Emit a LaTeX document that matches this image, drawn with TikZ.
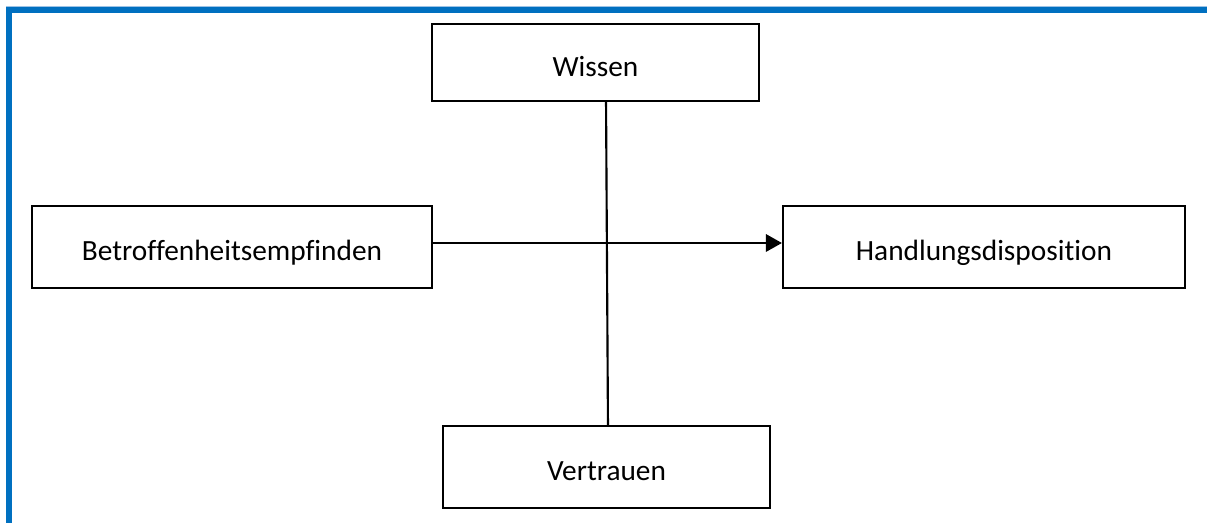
\documentclass[tikz,border=0pt]{standalone}
\usepackage{fontspec}
\setmainfont{Carlito}[Ligatures=NoCommon]
\usetikzlibrary{arrows.meta,calc}
\definecolor{frameblue}{HTML}{0070C0}
\definecolor{lightblue}{HTML}{9DC3E6}
\tikzset{
  box/.style={draw=black, line width=1.6pt, fill=white, inner sep=0pt,
    text height=24pt, text depth=3.6pt, font=\fontsize{22pt}{26pt}\selectfont},
  conn/.style={draw=black, line width=1.6pt},
}
\begin{document}
\begin{tikzpicture}[x=0.75pt,y=-0.75pt]
\useasboundingbox (0,0) rectangle (1207,523);
\fill[white] (0,0) rectangle (1207,523);
% frame
\fill[lightblue] (6,6) rectangle (1207,8);
\fill[frameblue] (6,7.5) rectangle (1207,13);
\fill[frameblue] (6,7.5) rectangle (12,523);
% nodes
\node[box, minimum width=245.25pt, minimum height=57.75pt] (W) at (595.5,62.5) {Wissen};
\node[box, minimum width=300pt, minimum height=61.5pt] (B) at (232,247) {Betroffenheitsempfinden};
\node[box, minimum width=301.5pt, minimum height=61.5pt] (H) at (984,247) {Handlungsdisposition};
\node[box, minimum width=245.25pt, minimum height=61.5pt] (V) at (606.5,467) {Vertrauen};
% connectors
\draw[conn] ([xshift=7.9pt]W.south) -- ([xshift=1.1pt]V.north);
\draw[conn, -{Triangle[length=12pt,width=13pt]}] ([yshift=3pt]B.east) -- ([yshift=3pt]H.west);
\end{tikzpicture}
\end{document}
